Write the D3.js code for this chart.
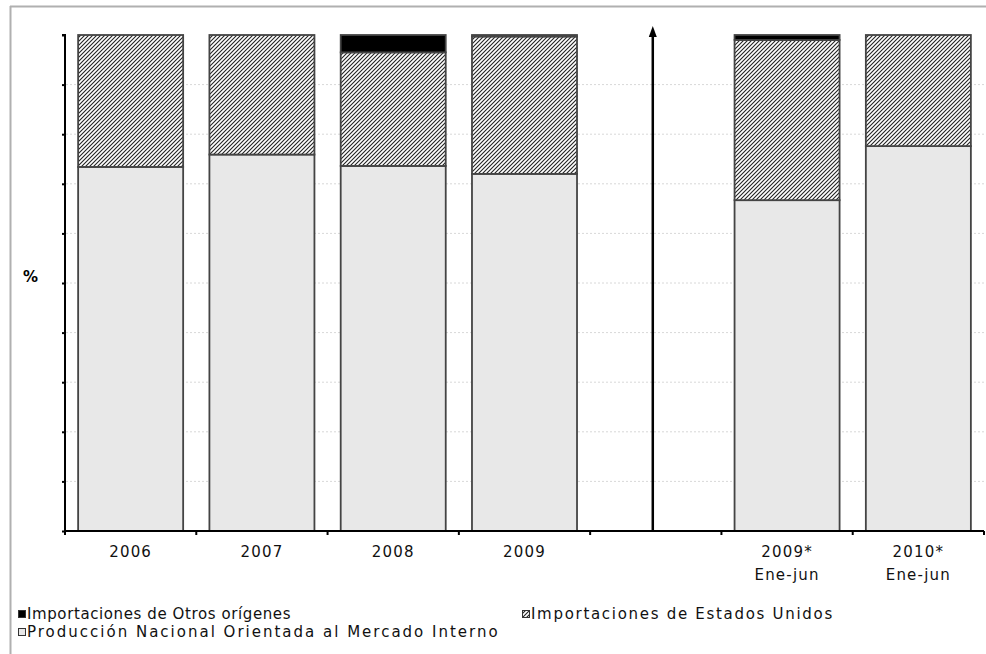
<!DOCTYPE html>
<html><head><meta charset="utf-8">
<script src="https://cdn.jsdelivr.net/npm/d3@7"></script>
<style>body{margin:0;background:#fff}svg{display:block}text{font-family:"DejaVu Sans",sans-serif;}</style>
</head><body><svg id="c" width="986" height="654"></svg>
<script>
const categories = ["2006","2007","2008","2009","gap","2009*|Ene-jun","2010*|Ene-jun"];
const produccion = [73.4, 75.9, 73.6, 72.0, null, 66.7, 77.6];
const estadosUnidos = [26.6, 24.1, 22.9, 27.7, null, 32.3, 22.4];
const otros = [0, 0, 3.5, 0.3, null, 1.0, 0];
const yTicks = [0,10,20,30,40,50,60,70,80,90,100];
const legendLabels = ["Importaciones de Otros orígenes","Importaciones de Estados Unidos","Producción Nacional Orientada al Mercado Interno"];

const svg = d3.select("#c");
const defs = svg.append("defs");
const pat = defs.append("pattern").attr("id","hatch").attr("patternUnits","userSpaceOnUse").attr("width",4).attr("height",4);
pat.append("rect").attr("width",4).attr("height",4).attr("fill","#fff");
pat.append("path").attr("d","M-1,1 l2,-2 M0,4 l4,-4 M3,5 l2,-2").attr("stroke","#222").attr("stroke-width",1.1);

// frame
svg.append("line").attr("x1",10).attr("x2",986).attr("y1",6.5).attr("y2",6.5).attr("stroke","#b0b0b0").attr("stroke-width",2);
svg.append("line").attr("x1",10.5).attr("x2",10.5).attr("y1",6).attr("y2",654).attr("stroke","#b0b0b0").attr("stroke-width",2);

const x = d3.scaleBand().domain(categories).range([65,984]).paddingInner(0.2).paddingOuter(0.1);
const step = x.step();
const y = d3.scaleLinear().domain([0,100]).range([531,35]);

// grid
svg.append("g").selectAll("line").data(yTicks.filter(d=>d>0 && d<100)).join("line")
  .attr("x1",66).attr("x2",984).attr("y1",d=>y(d)).attr("y2",d=>y(d))
  .attr("stroke","#d8d8d8").attr("stroke-dasharray","2,2");

// bars
const idx = d3.range(categories.length).filter(i=>produccion[i]!==null);
const g = svg.append("g");
idx.forEach(i=>{
  const x0 = x(categories[i]), w = x.bandwidth();
  const segs = [
    {v0:0, v1:produccion[i], fill:"#e8e8e8"},
    {v0:produccion[i], v1:produccion[i]+estadosUnidos[i], fill:"url(#hatch)"},
    {v0:produccion[i]+estadosUnidos[i], v1:produccion[i]+estadosUnidos[i]+otros[i], fill:"#000"}
  ];
  segs.forEach(s=>{
    if(s.v1-s.v0<=0.01) return;
    g.append("rect").attr("x",x0).attr("width",w).attr("y",y(s.v1)).attr("height",y(s.v0)-y(s.v1))
      .attr("fill",s.fill).attr("stroke","#444").attr("stroke-width",1.8);
  });
});

// y axis
const ya = svg.append("g").attr("transform","translate(65,0)").call(d3.axisLeft(y).tickValues(yTicks).tickSize(3).tickFormat(""));
ya.selectAll("path,line").attr("stroke","#000").attr("stroke-width",2);
ya.select(".domain").attr("d","M-3,35H0V531");

// x axis
const xa = svg.append("g").attr("transform","translate(0,531)");
xa.append("line").attr("x1",64).attr("x2",984).attr("stroke","#000").attr("stroke-width",2);
xa.selectAll("line.t").data(d3.range(categories.length+1)).join("line").attr("class","t")
  .attr("x1",i=>65+i*step).attr("x2",i=>65+i*step).attr("y1",0).attr("y2",4).attr("stroke","#000").attr("stroke-width",2);
categories.forEach(c=>{
  if(c==="gap") return;
  const lines = c.split("|");
  const cx = x(c)+x.bandwidth()/2;
  const t = xa.append("text").attr("x",cx).attr("text-anchor","middle").attr("font-size",15).attr("letter-spacing",1.2).attr("fill","#111");
  lines.forEach((l,k)=>t.append("tspan").attr("x",cx).attr("y",26+k*23).text(l));
});

// arrow in gap
const ax = x("gap")+x.bandwidth()/2-3;
svg.append("line").attr("x1",ax).attr("x2",ax).attr("y1",531).attr("y2",34).attr("stroke","#000").attr("stroke-width",2.5);
svg.append("path").attr("d",`M${ax-4},37 L${ax},26 L${ax+4},37 Z`).attr("fill","#000");

// % label
svg.append("text").attr("x",23).attr("y",282).attr("font-size",15).attr("font-weight","bold").text("%");

// legend
const leg = [
  {x:18,y:619,fill:"#000",label:legendLabels[0],ls:0.6},
  {x:522,y:619,fill:"url(#hatch)",label:legendLabels[1],ls:1.7},
  {x:18,y:637,fill:"#e8e8e8",label:legendLabels[2],ls:2.0}
];
leg.forEach(l=>{
  svg.append("rect").attr("x",l.x+0.5).attr("y",l.y-8.5).attr("width",7).attr("height",7).attr("fill",l.fill).attr("stroke","#333").attr("stroke-width",1);
  svg.append("text").attr("x",l.x+9).attr("y",l.y).attr("font-size",15).attr("letter-spacing",l.ls).attr("fill","#111").text(l.label);
});
</script></body></html>
